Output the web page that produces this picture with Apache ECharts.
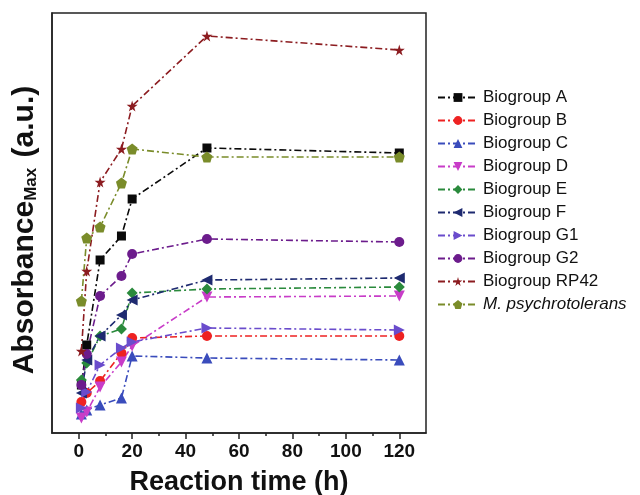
<!DOCTYPE html>
<html>
<head>
<meta charset="utf-8">
<script src="https://cdn.jsdelivr.net/npm/echarts@6/dist/echarts.min.js"></script>
<style>
  html, body { margin: 0; padding: 0; background: #fff; }
  #main { width: 640px; height: 495px; }
</style>
</head>
<body>
<div id="main"></div>
<script>
// reaction times (h)
var times = [1, 3, 8, 16, 20, 48, 120];
var xTickLabels = [0, 20, 40, 60, 80, 100, 120];

// absorbance (arbitrary units)
var biogroupA = [48, 88, 173, 197, 234, 285, 280];
var biogroupB = [31, 40, 52, 80, 95, 97, 97];
var biogroupC = [19, 23, 28, 35, 77, 75, 73];
var biogroupD = [15, 21, 46, 71, 87, 136, 137];
var biogroupE = [53, 70, 97, 104, 140, 144, 146];
var biogroupF = [40, 73, 97, 118, 133, 153, 155];
var biogroupG1 = [25, 41, 68, 85, 91, 105, 103];
var biogroupG2 = [48, 79, 137, 157, 179, 194, 191];
var biogroupRP42 = [82, 162, 251, 284, 327, 397, 383];
var mPsychro = [132, 195, 206, 250, 284, 276, 276];

var starPath = 'path://M50,0 L61,35 L98,35 L68,57 L79,91 L50,70 L21,91 L32,57 L2,35 L39,35 Z';
var pentaPath = 'path://M50,0 L98,36 L80,95 L20,95 L2,36 Z';
var font = 'Liberation Sans, Arial, sans-serif';

function pairs(vals) {
  return times.map(function (t, i) { return [t, vals[i]]; });
}

function mkSeries(name, vals, color, symbol, rotate, size) {
  return {
    name: name,
    type: 'line',
    data: pairs(vals),
    symbol: symbol,
    symbolRotate: rotate || 0,
    symbolSize: size || 9,
    itemStyle: { color: color },
    lineStyle: { color: color, width: 1.6, type: [7, 3, 2, 3] },
    z: 3
  };
}

var chart = echarts.init(document.getElementById('main'));
chart.setOption({
  animation: false,
  backgroundColor: '#fff',
  grid: {
    left: 52, right: 214, top: 13, bottom: 62,
    outerBoundsMode: 'none',
    show: true, borderColor: '#222', borderWidth: 1.5
  },
  legend: {
    orient: 'vertical',
    left: 432,
    top: 84,
    itemWidth: 40,
    itemHeight: 11,
    itemGap: 6,
    textStyle: {
      fontFamily: font,
      fontSize: 17,
      color: '#111',
      rich: { i: { fontStyle: 'italic', fontSize: 17, fontFamily: font, color: '#111' } }
    },
    formatter: function (name) {
      return name === 'M. psychrotolerans' ? '{i|' + name + '}' : name;
    }
  },
  xAxis: [{
    type: 'value',
    min: -10, max: 130, interval: 10,
    name: 'Reaction time (h)',
    nameLocation: 'middle',
    nameGap: 36,
    nameTextStyle: { fontFamily: font, fontSize: 27, fontWeight: 'bold', color: '#111' },
    axisLine: { show: true, onZero: false, lineStyle: { color: '#222', width: 1.5 } },
    axisTick: { show: true, length: 6, customValues: xTickLabels, lineStyle: { color: '#222', width: 1.5 } },
    axisLabel: {
      customValues: xTickLabels,
      margin: 9,
      fontFamily: font, fontSize: 19, fontWeight: 'bold', color: '#111'
    },
    splitLine: { show: false }
  }, {
    type: 'value',
    min: -10, max: 130, interval: 10,
    position: 'bottom',
    axisLine: { show: false },
    axisTick: { show: true, length: 3, customValues: [10, 30, 50, 70, 90, 110], lineStyle: { color: '#222', width: 1.5 } },
    axisLabel: { show: false },
    splitLine: { show: false }
  }],
  yAxis: {
    type: 'value',
    min: 0, max: 420,
    name: 'Absorbance{sub|Max} (a.u.)',
    nameLocation: 'middle',
    nameRotate: 90,
    nameGap: 12,
    nameTextStyle: {
      fontFamily: font, fontSize: 30, fontWeight: 'bold', color: '#111',
      padding: [0, 14, 0, 0],
      rich: {
        sub: { fontFamily: font, fontSize: 17, fontWeight: 'bold', color: '#111', verticalAlign: 'bottom', padding: [13, 2, 0, 0] }
      }
    },
    axisLine: { show: true, onZero: false, lineStyle: { color: '#222', width: 1.5 } },
    axisTick: { show: false },
    axisLabel: { show: false },
    splitLine: { show: false }
  },
  series: [
    mkSeries('Biogroup A', biogroupA, '#0a0a0a', 'rect', 0, 9),
    mkSeries('Biogroup B', biogroupB, '#ee2222', 'circle', 0, 10),
    mkSeries('Biogroup C', biogroupC, '#3a4cbc', 'triangle', 0, 11),
    mkSeries('Biogroup D', biogroupD, '#c83cc8', 'triangle', 180, 11),
    mkSeries('Biogroup E', biogroupE, '#2a8a3c', 'diamond', 0, 11),
    mkSeries('Biogroup F', biogroupF, '#1e2a70', 'triangle', 90, 11),
    mkSeries('Biogroup G1', biogroupG1, '#6a4ccc', 'triangle', -90, 11),
    mkSeries('Biogroup G2', biogroupG2, '#6c1c8c', 'circle', 0, 10),
    mkSeries('Biogroup RP42', biogroupRP42, '#8c1c20', starPath, 0, 11),
    mkSeries('M. psychrotolerans', mPsychro, '#7a8c2a', pentaPath, 0, 11)
  ]
});
</script>
</body>
</html>
